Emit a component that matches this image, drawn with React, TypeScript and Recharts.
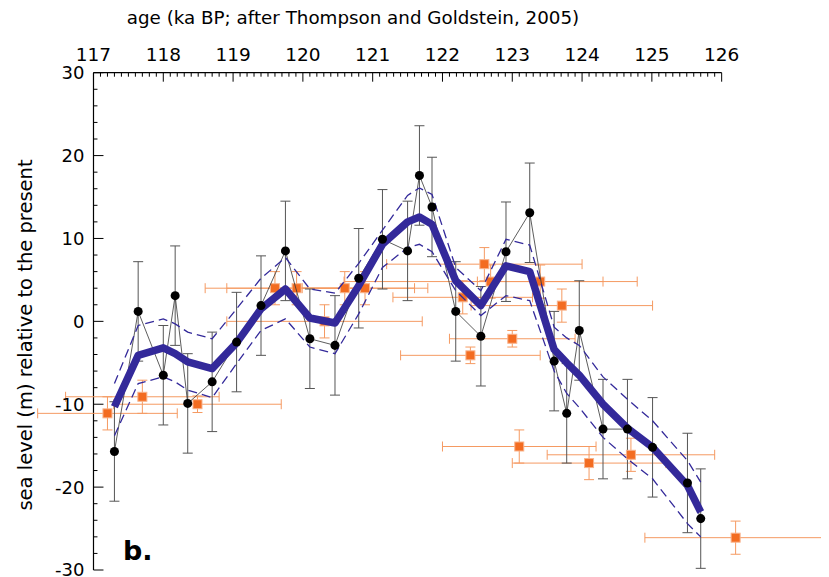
import { ScatterChart, Scatter, XAxis, YAxis, ErrorBar, ReferenceLine } from "recharts";

// ages (ka) of the dated samples and their sea level (m)
const BLACK_AGE = [117.3, 117.64, 118.0, 118.17, 118.35, 118.7, 119.05, 119.4, 119.75, 120.1, 120.46, 120.8, 121.14, 121.5, 121.67, 121.85, 122.19, 122.55, 122.91, 123.25, 123.6, 123.78, 123.96, 124.3, 124.65, 125.01, 125.51, 125.7];
const BLACK_LEVEL = [-15.7, 1.2, -6.5, 3.1, -9.9, -7.3, -2.5, 1.9, 8.5, -2.1, -2.9, 5.2, 9.9, 8.5, 17.6, 13.8, 1.2, -1.8, 8.4, 13.1, -4.8, -11.1, -1.1, -13.0, -13.0, -15.2, -19.5, -23.8];
const BLACK_ERR = [6, 6, 6, 6, 6, 6, 6, 6, 6, 6, 6, 6, 6, 6, 6, 6, 6, 6, 6, 6, 6, 6, 6, 6, 6, 6, 6, 6];

// smoothed curve and its envelope, at the same ages
const MEAN_LEVEL = [-10.3, -4.1, -3.2, -3.9, -4.9, -5.7, -2.6, 1.5, 3.9, 0.4, -0.2, 4.3, 9.3, 12.0, 12.6, 11.7, 4.9, 1.9, 6.7, 6.0, -3.4, -5.0, -6.5, -10.0, -12.9, -15.2, -19.8, -23.0];
const UPPER_LEVEL = [-7.5, -0.5, 0.3, -0.3, -1.3, -2.1, 1.5, 5.2, 7.7, 3.9, 3.4, 7.0, 11.0, 15.2, 16.1, 15.3, 6.5, 3.7, 9.9, 9.2, -0.7, -2.0, -2.9, -6.7, -9.4, -12.0, -16.8, -19.4];
const LOWER_LEVEL = [-13.8, -7.5, -6.7, -7.3, -8.3, -9.2, -5.1, -1.1, 0.3, -3.1, -3.9, 0.9, 6.5, 8.9, 9.3, 8.4, 3.7, 0.7, 3.1, 2.5, -6.0, -8.7, -10.4, -14.0, -16.6, -19.0, -24.4, -26.0];

// orange samples with errors in age and level
const ORANGE_AGE = [117.2, 117.7, 118.49, 119.6, 119.91, 120.31, 120.6, 120.89, 122.29, 122.4, 122.6, 122.69, 123.0, 123.1, 123.4, 123.71, 124.1, 124.7, 126.2];
const ORANGE_LEVEL = [-11.1, -9.1, -10.0, 4.0, 4.0, 0.0, 4.0, 4.0, 2.9, -4.1, 6.9, 4.8, -2.1, -15.1, 4.8, 1.9, -17.1, -16.1, -26.1];
const ORANGE_AGE_ERR = [1.0, 1.1, 1.2, 1.0, 1.0, 1.4, 1.0, 0.9, 1.0, 1.0, 1.4, 2.1, 0.9, 1.1, 0.9, 1.3, 1.1, 1.2, 1.3];
const ORANGE_LEVEL_ERR = [2, 2, 1, 2, 2, 2, 2, 2, 2, 1, 2, 2, 1, 2, 2, 2, 2, 2, 2];

const MAJOR_AGES = [117, 118, 119, 120, 121, 122, 123, 124, 125, 126];
const MAJOR_LEVELS = [30, 20, 10, 0, -10, -20, -30];

const AGE_TICKS: number[] = [];
for (let i = 0; i <= 90; i++) AGE_TICKS.push(Math.round((117 + i * 0.1) * 10) / 10);
const LEVEL_TICKS: number[] = [];
for (let v = -30; v <= 30; v += 2) LEVEL_TICKS.push(v);

const black = BLACK_AGE.map((x, i) => ({ x, y: BLACK_LEVEL[i], ey: BLACK_ERR[i] }));
const mean = BLACK_AGE.map((x, i) => ({ x, y: MEAN_LEVEL[i] }));
const upper = BLACK_AGE.map((x, i) => ({ x, y: UPPER_LEVEL[i] }));
const lower = BLACK_AGE.map((x, i) => ({ x, y: LOWER_LEVEL[i] }));
const orange = ORANGE_AGE.map((x, i) => ({ x, y: ORANGE_LEVEL[i], ex: ORANGE_AGE_ERR[i], ey: ORANGE_LEVEL_ERR[i] }));

const FONT = "DejaVu Sans";
const BLUE = "#33299a";
const ORANGE = "#f36c21";
const ORANGE_BAR = "#f59a62";

function TopTick(props: any) {
  const { x, y, payload } = props;
  const v = payload.value;
  const major = MAJOR_AGES.includes(v);
  return (
    <g>
      <line x1={x} x2={x} y1={y} y2={y + (major ? 9 : 4)} stroke="#000" strokeWidth={1} />
      {major && (
        <text x={x} y={y - 12} textAnchor="middle" fontSize={18.5} fontFamily={FONT} fill="#000">
          {v}
        </text>
      )}
    </g>
  );
}

const Empty = () => <g />;

const Square = (props: any) => (
  <rect x={props.cx - 4.5} y={props.cy - 4.5} width={9} height={9} fill={ORANGE} stroke="#f8b38c" strokeWidth={1} />
);

export default function App() {
  return (
    <div style={{ position: "relative", width: 821, height: 569, fontFamily: FONT }}>
      <ScatterChart width={821} height={569} margin={{ top: 4.7, right: 2.64, bottom: 7, left: 29.66 }}>
        <XAxis
          type="number"
          dataKey="x"
          orientation="top"
          height={60}
          domain={[116.2, 127.5]}
          ticks={AGE_TICKS}
          interval={0}
          tickSize={0}
          tickMargin={0}
          axisLine={false}
          tickLine={false}
          tick={<TopTick />}
        />
        <YAxis type="number" dataKey="y" domain={[-30, 30]} hide />

        <ReferenceLine segment={[{ x: 117, y: 30 }, { x: 126, y: 30 }]} stroke="#000" strokeWidth={1.2} />
        <ReferenceLine segment={[{ x: 117, y: -30 }, { x: 117, y: 30 }]} stroke="#000" strokeWidth={1.2} />
        {LEVEL_TICKS.map((v) => {
          const major = MAJOR_LEVELS.includes(v);
          return (
            <ReferenceLine
              key={v}
              segment={[{ x: 117, y: v }, { x: major ? 117.143 : 117.057, y: v }]}
              stroke="#000"
              strokeWidth={1}
              label={
                major
                  ? { value: String(v), position: "left", offset: 9, fontSize: 18, fontFamily: FONT, fill: "#000" }
                  : undefined
              }
            />
          );
        })}

        <Scatter data={orange} shape={Square} isAnimationActive={false}>
          <ErrorBar dataKey="ex" direction="x" width={5} stroke={ORANGE_BAR} strokeWidth={1} />
          <ErrorBar dataKey="ey" direction="y" width={5} stroke={ORANGE_BAR} strokeWidth={1} />
        </Scatter>

        <Scatter
          data={black}
          shape={Empty}
          line={{ stroke: "#333", strokeWidth: 0.8 }}
          lineJointType="linear"
          isAnimationActive={false}
        >
          <ErrorBar dataKey="ey" direction="y" width={5} stroke="#555" strokeWidth={1} />
        </Scatter>

        <Scatter
          data={mean}
          shape={Empty}
          line={{ stroke: BLUE, strokeWidth: 7.5, strokeLinejoin: "round" }}
          lineJointType="linear"
          isAnimationActive={false}
        />
        <Scatter
          data={upper}
          shape={Empty}
          line={{ stroke: BLUE, strokeWidth: 1.3, strokeDasharray: "9 5" }}
          lineJointType="linear"
          isAnimationActive={false}
        />
        <Scatter
          data={lower}
          shape={Empty}
          line={{ stroke: BLUE, strokeWidth: 1.3, strokeDasharray: "9 5" }}
          lineJointType="linear"
          isAnimationActive={false}
        />

        <Scatter data={black} fill="#000" shape="circle" isAnimationActive={false} />
      </ScatterChart>

      <div style={{ position: "absolute", left: 0, top: 1, width: 690, textAlign: "center", fontSize: 18.3, lineHeight: "18px", color: "#000", whiteSpace: "nowrap" }}>
        age (ka BP; after Thompson and Goldstein, 2005)
      </div>
      <div
        style={{
          position: "absolute",
          left: 17,
          top: 327,
          transform: "translate(-50%, -50%) rotate(-90deg)",
          fontSize: 19.5,
          lineHeight: "19px",
          color: "#000",
          whiteSpace: "nowrap",
        }}
      >
        sea level (m) relative to the present
      </div>
      <div style={{ position: "absolute", left: 115, top: 529, fontSize: 27, fontWeight: "bold", lineHeight: "27px", color: "#000" }}>
        b.
      </div>
    </div>
  );
}
